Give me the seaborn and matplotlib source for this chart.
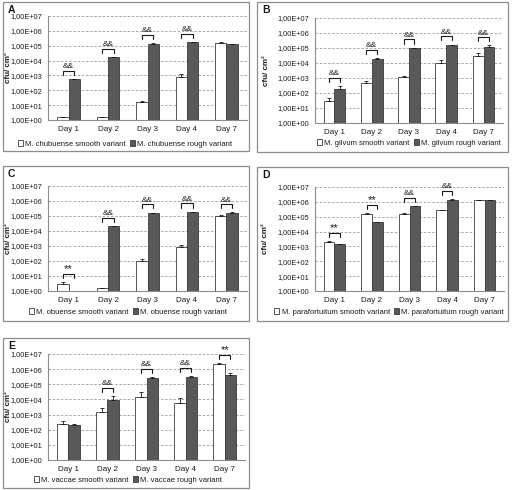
import numpy as np
import pandas as pd
import matplotlib
matplotlib.use('Agg')
import matplotlib.pyplot as plt
import matplotlib.patches as mpatches
from matplotlib.ticker import FixedLocator, NullLocator
import seaborn as sns

# data (cfu/cm2, upper error = sd)
days = ['Day 1', 'Day 2', 'Day 3', 'Day 4', 'Day 7']
ytick_values = [1e0, 1e1, 1e2, 1e3, 1e4, 1e5, 1e6, 1e7]
ytick_labels = ['1,00E+00', '1,00E+01', '1,00E+02', '1,00E+03',
                '1,00E+04', '1,00E+05', '1,00E+06', '1,00E+07']

a_smooth = [1.5, 1.5, 17, 800, 1.45e5]
a_smooth_err = [0.1, 0.1, 1, 400, 2e4]
a_rough = [550, 1.7e4, 1.4e5, 1.7e5, 1.3e5]
a_rough_err = [50, 1e3, 1.5e4, 1.5e4, 1e4]
a_sig = ['&&', '&&', '&&', '&&', '']

b_smooth = [30, 450, 1100, 1e4, 3e4]
b_smooth_err = [18, 150, 300, 6e3, 1.8e4]
b_rough = [190, 1.8e4, 1e5, 1.6e5, 1.1e5]
b_rough_err = [90, 3e3, 5e3, 1e4, 4e4]
b_sig = ['&&', '&&', '&&', '&&', '&&']

c_smooth = [2.8, 1.6, 100, 800, 1e5]
c_smooth_err = [0.9, 0.1, 40, 300, 1.5e4]
c_rough = [1.0, 2e4, 1.6e5, 1.8e5, 1.6e5]
c_rough_err = [0, 1e3, 1e4, 1.5e4, 1.5e4]
c_sig = ['**', '&&', '&&', '&&', '&&']

d_smooth = [2.1e3, 1.6e5, 1.6e5, 2.8e5, 1.3e6]
d_smooth_err = [150, 5e3, 5e3, 1e4, 5e4]
d_rough = [1.4e3, 4.3e4, 5e5, 1.4e6, 1.3e6]
d_rough_err = [100, 3e3, 4e4, 2e5, 1e5]
d_sig = ['**', '**', '&&', '&&', '']

e_smooth = [250, 1.4e3, 1.4e4, 6e3, 2.3e6]
e_smooth_err = [150, 1.2e3, 1.6e4, 6e3, 1e5]
e_rough = [190, 9e3, 2.8e5, 3e5, 4.2e5]
e_rough_err = [60, 7e3, 2e4, 3e4, 1.8e5]
e_sig = ['', '&&', '&&', '&&', '**']

panels = [
    ('A', 'chubuense', a_smooth, a_smooth_err, a_rough, a_rough_err, a_sig),
    ('B', 'gilvum', b_smooth, b_smooth_err, b_rough, b_rough_err, b_sig),
    ('C', 'obuense', c_smooth, c_smooth_err, c_rough, c_rough_err, c_sig),
    ('D', 'parafortuitum', d_smooth, d_smooth_err, d_rough, d_rough_err, d_sig),
    ('E', 'vaccae', e_smooth, e_smooth_err, e_rough, e_rough_err, e_sig),
]

# layout in pixels: axes (l, t, r, b), frame (l, t, r, b), ylabel x, legend centre (x, y)
W, H = 512, 490
layout = {
    'A': dict(ax=(48, 16, 247, 120), frame=(3, 2, 249, 151), ylab=12, leg=(125, 144)),
    'B': dict(ax=(315, 18, 503, 123), frame=(257, 2, 508, 152), ylab=270, leg=(409, 143)),
    'C': dict(ax=(48, 186, 247, 291), frame=(3, 166, 249, 321), ylab=12, leg=(128, 312)),
    'D': dict(ax=(315, 187, 504, 291), frame=(257, 167, 508, 321), ylab=269, leg=(389, 312)),
    'E': dict(ax=(48, 354, 245, 460), frame=(3, 338, 249, 488), ylab=12, leg=(128, 480)),
}

sns.set_theme(style='white')
plt.rcParams['font.family'] = ['Liberation Sans', 'DejaVu Sans']
txt = '#1a1a1a'
grey = '#8c8c8c'

fig = plt.figure(figsize=(W / 100, H / 100), dpi=100)

for letter, species, smooth, smooth_err, rough, rough_err, sig in panels:
    lay = layout[letter]
    l, t, r, b = lay['ax']
    ax = fig.add_axes([l / W, 1 - b / H, (r - l) / W, (b - t) / H])

    fl, ft, fr, fb = lay['frame']
    fig.add_artist(mpatches.Rectangle((fl / W, 1 - fb / H), (fr - fl) / W, (fb - ft) / H,
                                      transform=fig.transFigure, fill=False,
                                      ec=grey, lw=0.9))
    fig.text((fl + 5) / W, 1 - (ft + 8) / H, letter, fontsize=7.5, fontweight='bold',
             color=txt, va='center', ha='left')

    lab_s = f'M. {species} smooth variant'
    lab_r = f'M. {species} rough variant'
    df = pd.DataFrame({
        'Day': days * 2,
        'cfu': smooth + rough,
        'err': smooth_err + rough_err,
        'variant': [lab_s] * len(days) + [lab_r] * len(days),
    })

    sns.barplot(data=df, x='Day', y='cfu', hue='variant', palette=['white', '#595959'],
                edgecolor='#3a3a3a', linewidth=0.6, width=0.58, errorbar=None,
                ax=ax)
    ax.set_yscale('log', nonpositive='clip')

    ax.set_ylim(1, 1e7)
    ax.yaxis.set_major_locator(FixedLocator(ytick_values))
    ax.yaxis.set_minor_locator(NullLocator())
    ax.set_yticklabels(ytick_labels)

    # error bars (upper only)
    for cont, vals, errs in zip(ax.containers, [smooth, rough], [smooth_err, rough_err]):
        for bar, v, e in zip(cont, vals, errs):
            if e <= 0:
                continue
            xc = bar.get_x() + bar.get_width() / 2
            ax.errorbar(xc, v, yerr=[[0], [e]], fmt='none', ecolor='#1a1a1a',
                        elinewidth=0.6, capsize=1.6, capthick=0.6)

    # significance brackets
    for i, s in enumerate(sig):
        if not s:
            continue
        x0 = ax.containers[0][i].get_x() + ax.containers[0][i].get_width() / 2
        x1 = ax.containers[1][i].get_x() + ax.containers[1][i].get_width() / 2
        top = max(smooth[i] + smooth_err[i], rough[i] + rough_err[i])
        yb = 10 ** (np.log10(top) + 0.55)
        yl = yb / 10 ** 0.28
        ax.plot([x0, x0, x1, x1], [yl, yb, yb, yl], color='#1a1a1a', lw=0.8,
                clip_on=False)
        if s == '**':
            ax.text((x0 + x1) / 2, yb, s, ha='center', va='bottom',
                    fontsize=8, color=txt)
        else:
            ax.text((x0 + x1) / 2, yb * 10 ** 0.04, s, ha='center', va='bottom',
                    fontsize=6, color=txt)

    ax.grid(axis='y', color='#9a9a9a', lw=0.6, linestyle=(0, (3, 2)))
    ax.set_axisbelow(True)
    for side in ['top', 'right']:
        ax.spines[side].set_visible(False)
    for side in ['left', 'bottom']:
        ax.spines[side].set_color(grey)
        ax.spines[side].set_linewidth(0.8)
    ax.tick_params(axis='y', length=2.5, width=0.6, color=grey, labelsize=5.3,
                   labelcolor=txt, pad=2)
    ax.tick_params(axis='x', length=0, labelsize=5.8, labelcolor=txt, pad=4)

    ax.set_xlabel('')
    ax.set_ylabel('cfu/ cm²', fontsize=5.8, fontweight='bold', color=txt)
    ax.yaxis.set_label_coords((lay['ylab'] - l) / (r - l), 0.5)

    lx, ly = lay['leg']
    sns.move_legend(ax, 'center', bbox_to_anchor=((lx - l) / (r - l), (b - ly) / (b - t)),
                    ncol=2, frameon=False, title=None, fontsize=5.5, handlelength=0.7,
                    handleheight=0.7, handletextpad=0.3, columnspacing=0.5,
                    borderaxespad=0, labelcolor=txt)

fig.savefig('out.png', dpi=100)
